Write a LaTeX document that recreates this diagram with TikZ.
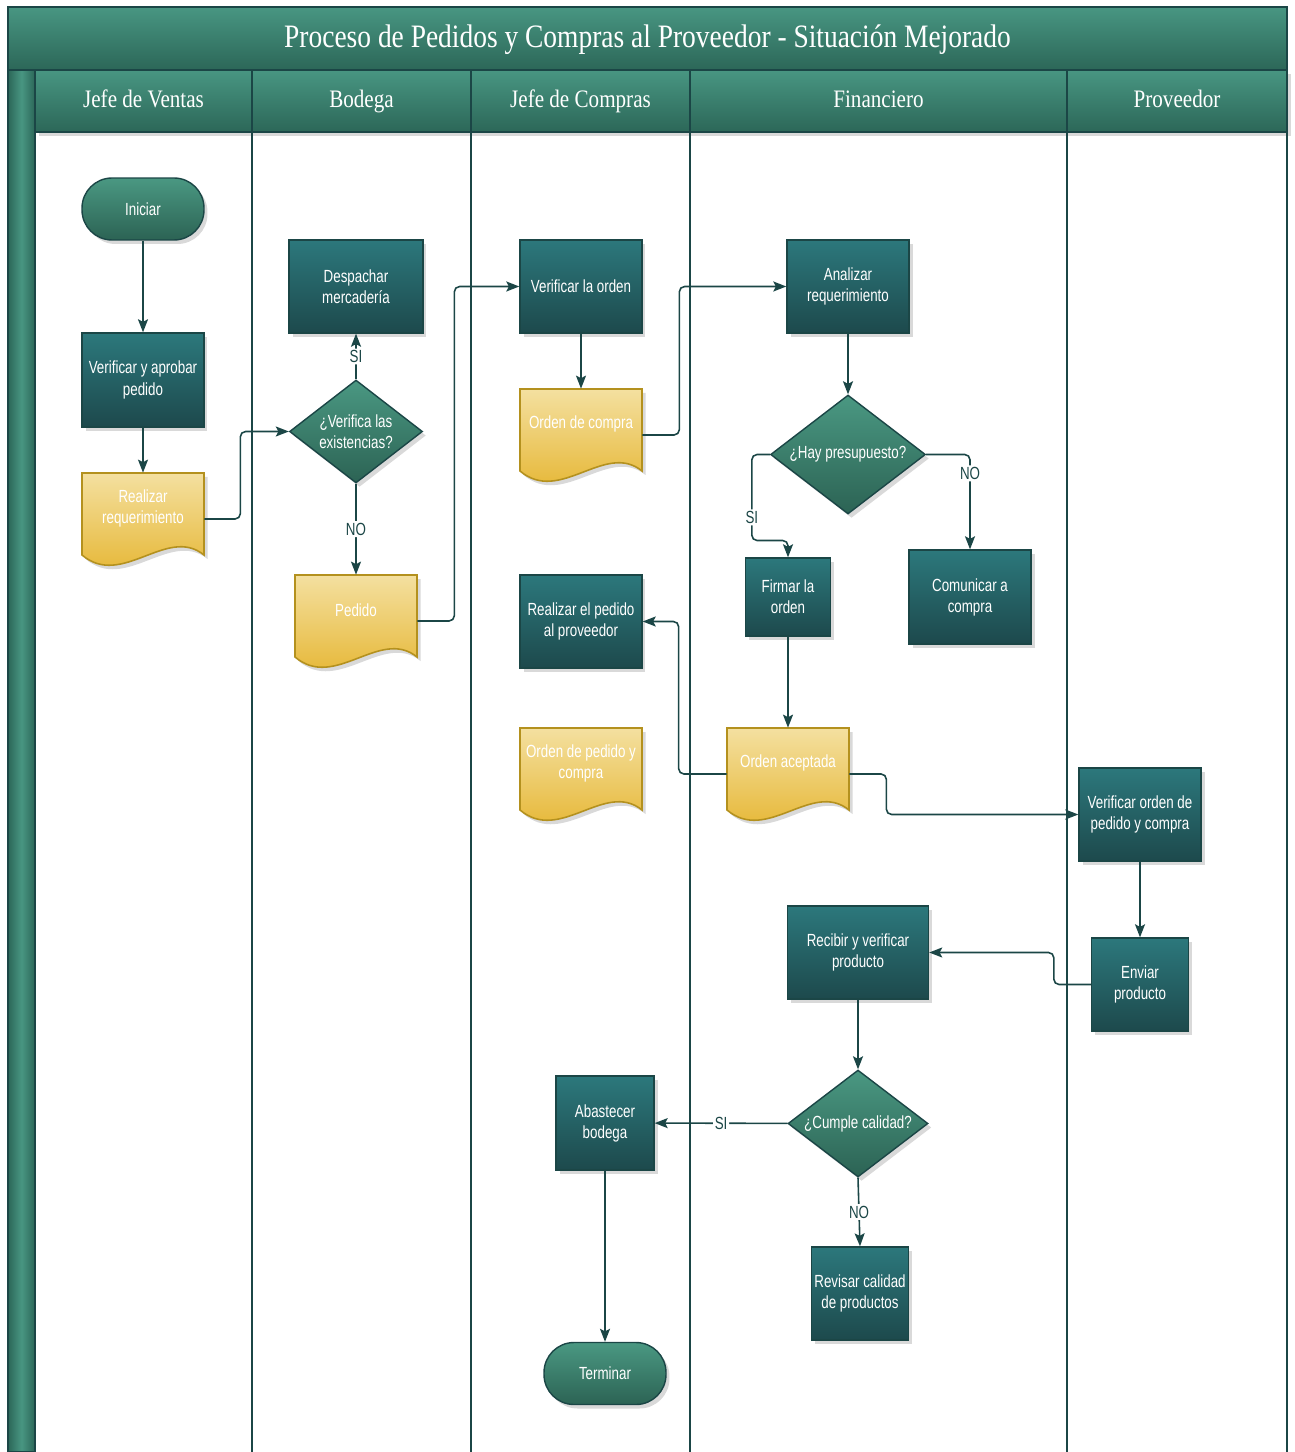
\documentclass[tikz,border=0pt]{standalone}
\usepackage{fontspec}
\usetikzlibrary{shapes.geometric,arrows.meta,shadows}

\newfontfamily\titulofont[FakeStretch=0.84]{Liberation Serif}
\newfontfamily\cajafont[FakeStretch=0.76]{Liberation Sans}

\definecolor{linea}{RGB}{27,70,70}
\definecolor{cajaArriba}{RGB}{44,120,124}
\definecolor{cajaAbajo}{RGB}{29,73,76}
\definecolor{verdeArriba}{RGB}{74,152,130}
\definecolor{verdeAbajo}{RGB}{44,99,84}
\definecolor{docArriba}{RGB}{244,224,160}
\definecolor{docAbajo}{RGB}{228,177,38}
\definecolor{docBorde}{RGB}{180,145,30}
\definecolor{bandaArriba}{RGB}{72,150,130}
\definecolor{bandaAbajo}{RGB}{44,103,88}

% documento: forma con borde ondulado abajo, nodo invisible para las flechas
\newcommand{\documento}[3]{%
  \begin{scope}[shift={(#2)}]
    \path[docforma] (-61,-46) -- (61,-46) -- (61,36) .. controls (24,6) and (-21,70) .. (-61,36) -- cycle;
  \end{scope}
  \node[docnodo, label={[doctexto]center:{#3}}] (#1) at (#2) {};
}

\begin{document}
\begin{tikzpicture}[x=0.02cm, y=-0.02cm,
    sombra/.style={drop shadow={shadow xshift=0.07cm, shadow yshift=-0.08cm, opacity=0.3}},
    banda/.style={draw=linea, line width=0.9pt, top color=bandaArriba, bottom color=bandaAbajo},
    titulo/.style={anchor=base, text=white, font=\titulofont\fontsize{18.6}{22}\selectfont},
    cabecera/.style={anchor=base, text=white, font=\titulofont\fontsize{14.3}{17}\selectfont},
    carril/.style={draw=linea, line width=1.1pt},
    caja/.style={rectangle, draw=linea, line width=0.8pt, top color=cajaArriba, bottom color=cajaAbajo,
        text=white, align=center, font=\cajafont\fontsize{10}{12}\selectfont,
        minimum width=2.44cm, minimum height=1.86cm, inner sep=1pt, sombra},
    decision/.style={diamond, draw=linea, line width=0.8pt, top color=verdeArriba, bottom color=verdeAbajo,
        text=white, align=center, font=\cajafont\fontsize{10}{12}\selectfont, inner sep=0pt, aspect=1.3, sombra},
    terminal/.style={rectangle, rounded corners=0.6cm, draw=linea, line width=0.8pt, top color=verdeArriba,
        bottom color=verdeAbajo, text=white, font=\cajafont\fontsize{10}{12}\selectfont,
        minimum width=2.44cm, minimum height=1.24cm, sombra},
    docforma/.style={draw=docBorde, line width=0.9pt, top color=docArriba, bottom color=docAbajo, sombra},
    docnodo/.style={rectangle, minimum width=2.44cm, minimum height=1.84cm, inner sep=0pt},
    doctexto/.style={text=white, align=center, yshift=0.22cm, font=\cajafont\fontsize{10}{12}\selectfont},
    flecha/.style={draw=linea, line width=0.9pt, rounded corners=3pt, -{Stealth[length=0.26cm, width=0.2cm, inset=0.05cm]}},
    etq/.style={fill=white, text=linea, inner sep=1pt, font=\cajafont\fontsize{10}{11}\selectfont}]

    \useasboundingbox (0,0) rectangle (1294,1452);

    % carriles
    \path[banda] (8,7) rectangle (1287,70);
    \path[banda, left color=bandaAbajo, right color=bandaAbajo, middle color=bandaArriba] (8,70) rectangle (35,1452);
    \path[banda, sombra] (35,70) rectangle (252,132);
    \path[banda, sombra] (252,70) rectangle (471,132);
    \path[banda, sombra] (471,70) rectangle (690,132);
    \path[banda, sombra] (690,70) rectangle (1067,132);
    \path[banda, sombra] (1067,70) rectangle (1287,132);

    \foreach \xc in {35,252,471,690,1067}
        \path[carril] (\xc,70) -- (\xc,1452);
    \path[carril] (8,1452) -- (8,7) -- (1287,7) -- (1287,1452);

    \node[titulo] (titulo) at (647.5,48) {Proceso de Pedidos y Compras al Proveedor - Situación Mejorado};
    \node[cabecera] (hVentas) at (143.5,108) {Jefe de Ventas};
    \node[cabecera] (hBodega) at (361.5,108) {Bodega};
    \node[cabecera] (hCompras) at (580.5,108) {Jefe de Compras};
    \node[cabecera] (hFinanciero) at (878.5,108) {Financiero};
    \node[cabecera] (hProveedor) at (1177,108) {Proveedor};

    % Jefe de Ventas
    \node[terminal] (iniciar) at (143,209) {Iniciar};
    \node[caja, minimum height=1.88cm] (verifAprobar) at (143,380) {Verificar y aprobar\\pedido};
    \documento{realizarReq}{143,519}{Realizar\\requerimiento}

    % Bodega
    \node[caja, minimum width=2.68cm] (despachar) at (356,286.5) {Despachar\\mercadería};
    \node[decision, minimum width=2.66cm, minimum height=2.06cm] (verifExist) at (356,431.5) {¿Verifica las\\existencias?};
    \documento{pedido}{356,621}{Pedido}

    % Jefe de Compras
    \node[caja] (verifOrden) at (581,286.5) {Verificar la orden};
    \documento{ordenCompra}{581,435}{Orden de compra}
    \node[caja] (realizarPed) at (581,621.5) {Realizar el pedido\\al proveedor};
    \documento{ordenPedCompra}{581,774}{Orden de pedido y\\compra}
    \node[caja, minimum width=1.96cm, minimum height=1.88cm] (abastecer) at (605,1123) {Abastecer\\bodega};
    \node[terminal] (terminar) at (605,1373.5) {Terminar};

    % Financiero
    \node[caja] (analizar) at (848,286.5) {Analizar\\requerimiento};
    \node[decision, minimum width=3.1cm, minimum height=2.38cm] (hayPres) at (848,454.5) {¿Hay presupuesto?};
    \node[caja, minimum width=1.7cm, minimum height=1.56cm] (firmar) at (788,597) {Firmar la\\orden};
    \node[caja, minimum height=1.88cm] (comunicar) at (970,597) {Comunicar a\\compra};
    \documento{ordenAcep}{788,774}{Orden aceptada}
    \node[caja, minimum width=2.82cm] (recibir) at (858,952.5) {Recibir y verificar\\producto};
    \node[decision, minimum width=2.8cm, minimum height=2.14cm] (cumple) at (858,1123.5) {¿Cumple calidad?};
    \node[caja, minimum width=1.94cm] (revisar) at (860,1293.5) {Revisar calidad\\de productos};

    % Proveedor
    \node[caja] (verifPedido) at (1140,814.5) {Verificar orden de\\pedido y compra};
    \node[caja, minimum width=1.94cm] (enviar) at (1140,984.5) {Enviar\\producto};

    % flechas
    \draw[flecha] (iniciar) -- (verifAprobar);
    \draw[flecha] (verifAprobar) -- (realizarReq);
    \draw[flecha] (realizarReq.east) -- ++(36,0) |- (verifExist.west);
    \draw[flecha] (verifExist) -- node[etq] {SI} (despachar);
    \draw[flecha] (verifExist) -- node[etq] {NO} (pedido);
    \draw[flecha] (pedido.east) -- ++(37,0) |- (verifOrden.west);
    \draw[flecha] (verifOrden) -- (ordenCompra);
    \draw[flecha] (ordenCompra.east) -- ++(37,0) |- (analizar.west);
    \draw[flecha] (analizar) -- (hayPres);
    \draw[flecha] (hayPres.west) -- ++(-18,0) -- node[etq, pos=0.73] {SI} ++(0,86) -| (firmar.north);
    \draw[flecha] (hayPres.east) -| node[etq, pos=0.6] {NO} (comunicar.north);
    \draw[flecha] (firmar) -- (ordenAcep);
    \draw[flecha] (ordenAcep.west) -- ++(-48,0) |- (realizarPed.east);
    \draw[flecha] (ordenAcep.east) -- ++(37,0) |- (verifPedido.west);
    \draw[flecha] (verifPedido) -- (enviar);
    \draw[flecha] (enviar.west) -- ++(-37,0) |- (recibir.east);
    \draw[flecha] (recibir) -- (cumple);
    \draw[flecha] (cumple) -- node[etq] {SI} (abastecer);
    \draw[flecha] (cumple.south) -- node[etq] {NO} (revisar.north);
    \draw[flecha] (abastecer) -- (terminar);

\end{tikzpicture}
\end{document}
